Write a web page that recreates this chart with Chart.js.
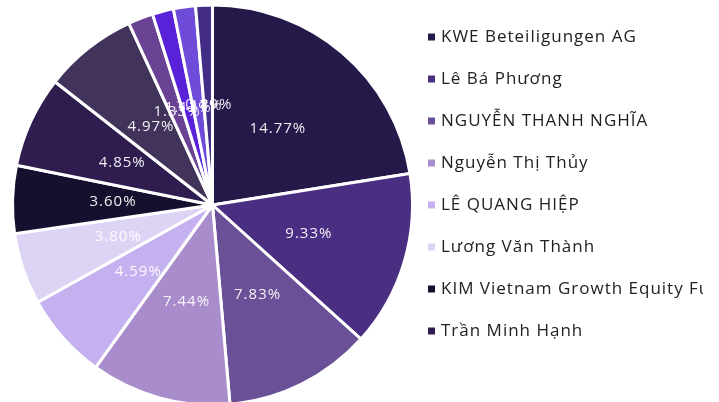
<!DOCTYPE html>
<html>
<head>
<meta charset="utf-8">
<script src="https://cdn.jsdelivr.net/npm/chart.js@4/dist/chart.umd.min.js"></script>
<style>
html,body{margin:0;padding:0;background:#fff;}
#wrap{width:719px;height:402px;position:relative;}
</style>
</head>
<body>
<div id="wrap"><canvas id="c" width="719" height="402"></canvas></div>
<script>
const categories = [
  "KWE Beteiligungen AG",
  "Lê Bá Phương",
  "NGUYỄN THANH NGHĨA",
  "Nguyễn Thị Thủy",
  "LÊ QUANG HIỆP",
  "Lương Văn Thành",
  "KIM Vietnam Growth Equity Fund",
  "Trần Minh Hạnh",
  "Khác 1",
  "Khác 2",
  "Khác 3",
  "Khác 4",
  "Khác 5"
];
const values = [14.77, 9.33, 7.83, 7.44, 4.59, 3.80, 3.60, 4.85, 4.97, 1.33, 1.12, 1.17, 0.89];
const colors = ["#25194a", "#4a2e82", "#6a5097", "#a98ccb", "#c5b1f0", "#ddd3f4", "#160f2e", "#2f1d4f", "#41335a", "#6a4294", "#5a22d8", "#6f4bd9", "#432c86"];
const legendCount = 8;

const sliceLabels = {
  id: 'sliceLabels',
  afterDatasetsDraw(chart) {
    const ctx = chart.ctx;
    const meta = chart.getDatasetMeta(0);
    ctx.save();
    ctx.font = '15px "Open Sans", Lato, sans-serif';
    ctx.letterSpacing = '1px';
    ctx.fillStyle = 'rgba(255,255,255,0.92)';
    ctx.textAlign = 'center';
    ctx.textBaseline = 'middle';
    meta.data.forEach((arc, i) => {
      const p = arc.tooltipPosition();
      ctx.fillText(chart.data.datasets[0].data[i].toFixed(2) + '%', p.x + 0.5, p.y);
    });
    ctx.restore();
  }
};

const sideLegend = {
  id: 'sideLegend',
  afterDraw(chart) {
    const ctx = chart.ctx;
    const ds = chart.data.datasets[0];
    ctx.save();
    ctx.beginPath();
    ctx.rect(420, 0, 283, 402);
    ctx.clip();
    ctx.font = '17px "Open Sans", Lato, sans-serif';
    ctx.letterSpacing = '1px';
    ctx.textBaseline = 'middle';
    ctx.textAlign = 'left';
    for (let i = 0; i < legendCount; i++) {
      const y = 37.5 + i * 42;
      ctx.fillStyle = ds.backgroundColor[i];
      ctx.fillRect(428, y - 4, 7, 7);
      ctx.fillStyle = '#222222';
      ctx.fillText(chart.data.labels[i], 441, y);
    }
    ctx.restore();
  }
};

new Chart(document.getElementById('c'), {
  type: 'pie',
  data: {
    labels: categories,
    datasets: [{
      data: values,
      backgroundColor: colors,
      borderColor: '#ffffff',
      borderWidth: 3,
      radius: 200
    }]
  },
  options: {
    responsive: false,
    animation: false,
    layout: { padding: { left: 13, right: 307, top: 8, bottom: 0 } },
    plugins: {
      legend: { display: false },
      tooltip: { enabled: false }
    }
  },
  plugins: [sliceLabels, sideLegend]
});
</script>
</body>
</html>
